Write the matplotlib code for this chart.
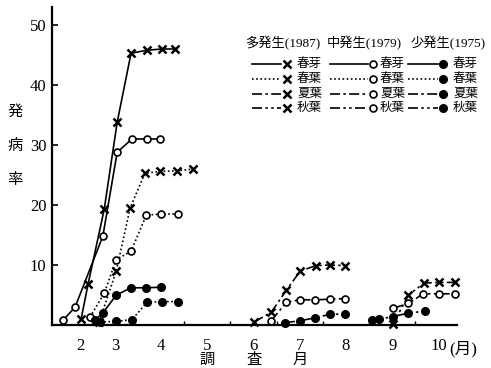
import matplotlib
matplotlib.use("Agg")
import matplotlib.pyplot as plt
from matplotlib.lines import Line2D
from matplotlib.transforms import blended_transform_factory

plt.rcParams["font.family"] = ["Liberation Serif", "Noto Sans CJK JP"]

W, H = 491, 368

# survey month (x) and disease rate (y) for each series
# 多発生 (1987)
x87_haru_me = [2.27, 2.42, 2.77, 3.05, 3.35, 3.70, 4.02, 4.30]
y87_haru_me = [1.0, 6.8, 19.3, 33.8, 45.3, 45.8, 46.0, 46.0]
x87_haru_ha = [2.66, 3.03, 3.33, 3.65, 3.98, 4.35, 4.69]
y87_haru_ha = [0.5, 9.0, 19.5, 25.3, 25.6, 25.7, 26.0]
x87_natsu = [6.01, 6.38, 6.71, 7.01, 7.35, 7.66, 7.98]
y87_natsu = [0.5, 2.1, 5.8, 9.0, 9.9, 10.0, 9.9]
x87_aki = [9.02, 9.35, 9.69, 10.02, 10.36]
y87_aki = [0.2, 5.0, 7.0, 7.1, 7.1]

# 中発生 (1979)
x79_haru_me = [1.88, 2.14, 2.74, 3.05, 3.37, 3.70, 3.98]
y79_haru_me = [0.8, 3.0, 14.8, 28.8, 31.0, 31.0, 31.0]
x79_haru_ha = [2.46, 2.77, 3.03, 3.35, 3.68, 4.00, 4.37]
y79_haru_ha = [1.3, 5.3, 10.9, 12.3, 18.3, 18.5, 18.5]
x79_natsu = [6.38, 6.71, 7.01, 7.33, 7.66, 7.98]
y79_natsu = [0.7, 3.8, 4.2, 4.2, 4.3, 4.4]
x79_aki = [9.02, 9.35, 9.67, 10.00, 10.36]
y79_aki = [2.8, 3.6, 5.2, 5.2, 5.2]

# 少発生 (1975)
x75_haru_me = [2.57, 2.74, 3.03, 3.35, 3.68, 4.00]
y75_haru_me = [0.8, 2.0, 5.0, 6.2, 6.2, 6.3]
x75_haru_ha = [2.68, 3.03, 3.37, 3.70, 4.02, 4.37]
y75_haru_ha = [0.5, 0.6, 0.9, 3.8, 3.9, 3.9]
x75_natsu = [6.68, 7.01, 7.33, 7.66, 7.98]
y75_natsu = [0.4, 0.7, 1.2, 1.8, 1.8]
x75_aki = [8.57, 8.72, 9.02, 9.35, 9.71]
y75_aki = [0.9, 1.0, 1.4, 2.0, 2.3]

years = ["多発生(1987)", "中発生(1979)", "少発生(1975)"]
leaf_types = ["春芽", "春葉", "夏葉", "秋葉"]
month_labels = ["2", "3", "4", "5", "6", "7", "8", "9", "10"]
month_pos = [2.25, 3, 4, 5, 6, 7, 8, 9, 10]

styles = {
    "春芽": "-",
    "春葉": (0, (1, 1.5)),
    "夏葉": (0, (6, 2, 1.5, 2)),
    "秋葉": (0, (6, 2, 1.5, 2, 1.5, 2)),
}
marks = {
    "多発生(1987)": dict(marker="x", ms=5.5, mew=1.8, mfc="black", mec="black"),
    "中発生(1979)": dict(marker="o", ms=5, mew=1.2, mfc="white", mec="black"),
    "少発生(1975)": dict(marker="o", ms=5.5, mew=1.0, mfc="black", mec="black"),
}

series = [
    ("多発生(1987)", "春芽", x87_haru_me, y87_haru_me),
    ("多発生(1987)", "春葉", x87_haru_ha, y87_haru_ha),
    ("多発生(1987)", "夏葉", x87_natsu, y87_natsu),
    ("多発生(1987)", "秋葉", x87_aki, y87_aki),
    ("中発生(1979)", "春芽", x79_haru_me, y79_haru_me),
    ("中発生(1979)", "春葉", x79_haru_ha, y79_haru_ha),
    ("中発生(1979)", "夏葉", x79_natsu, y79_natsu),
    ("中発生(1979)", "秋葉", x79_aki, y79_aki),
    ("少発生(1975)", "春芽", x75_haru_me, y75_haru_me),
    ("少発生(1975)", "春葉", x75_haru_ha, y75_haru_ha),
    ("少発生(1975)", "夏葉", x75_natsu, y75_natsu),
    ("少発生(1975)", "秋葉", x75_aki, y75_aki),
]

fig = plt.figure(figsize=(W / 100, H / 100), dpi=100)
ax = fig.add_axes([52 / W, 1 - 325 / H, (457 - 52) / W, (325 - 7) / H])

for year, leaf, xs, ys in series:
    ax.plot(xs, ys, color="black", lw=1.2, linestyle=styles[leaf],
            clip_on=False, zorder=3, **marks[year])

ax.set_xlim(1.64, 10.4)
ax.set_ylim(0, 53)
for s in ["top", "right"]:
    ax.spines[s].set_visible(False)
for s in ["left", "bottom"]:
    ax.spines[s].set_linewidth(1.6)

ax.set_yticks([10, 20, 30, 40, 50])
ax.tick_params(axis="y", direction="in", length=4, width=1.2, pad=4, labelsize=12)
ax.set_xticks(month_pos)
ax.set_xticklabels(month_labels)
ax.tick_params(axis="x", length=0, pad=9, labelsize=12)
ax.set_xticks([4.5, 5.5, 6.5, 7.5, 8.5, 9.5], minor=True)
ax.tick_params(axis="x", which="minor", direction="in", length=3, width=1)

trans = blended_transform_factory(ax.transData, ax.transAxes)
ax.text(10.24, -0.075, "(月)", transform=trans, ha="left", va="center", fontsize=12)
for m, ch in zip([5, 6, 7], ["調", "査", "月"]):
    ax.text(m, -0.11, ch, transform=trans, ha="center", va="center", fontsize=11)

for py, ch in zip([112, 146, 180], ["発", "病", "率"]):
    fig.text(15 / W, 1 - py / H, ch, ha="center", va="center", fontsize=11)

# hand-made legend laid out like the original
head_x = [245, 327, 410]
line_x = [(252, 281), (330, 368), (408, 438)]
mark_x = [287, 373, 443]
text_x = [297, 380, 453]
row_y = [64, 79, 94, 108]
for j, year in enumerate(years):
    fig.text(head_x[j] / W, 1 - 43 / H, year, ha="left", va="center", fontsize=9.5)
    for i, leaf in enumerate(leaf_types):
        fy = 1 - row_y[i] / H
        fig.add_artist(Line2D([line_x[j][0] / W, line_x[j][1] / W], [fy, fy],
                              color="black", lw=1.2, linestyle=styles[leaf],
                              transform=fig.transFigure))
        fig.add_artist(Line2D([mark_x[j] / W], [fy], color="black", lw=0,
                              transform=fig.transFigure, **marks[year]))
        fig.text(text_x[j] / W, fy, leaf, ha="left", va="center", fontsize=9)

fig.savefig("out.png", dpi=100)
